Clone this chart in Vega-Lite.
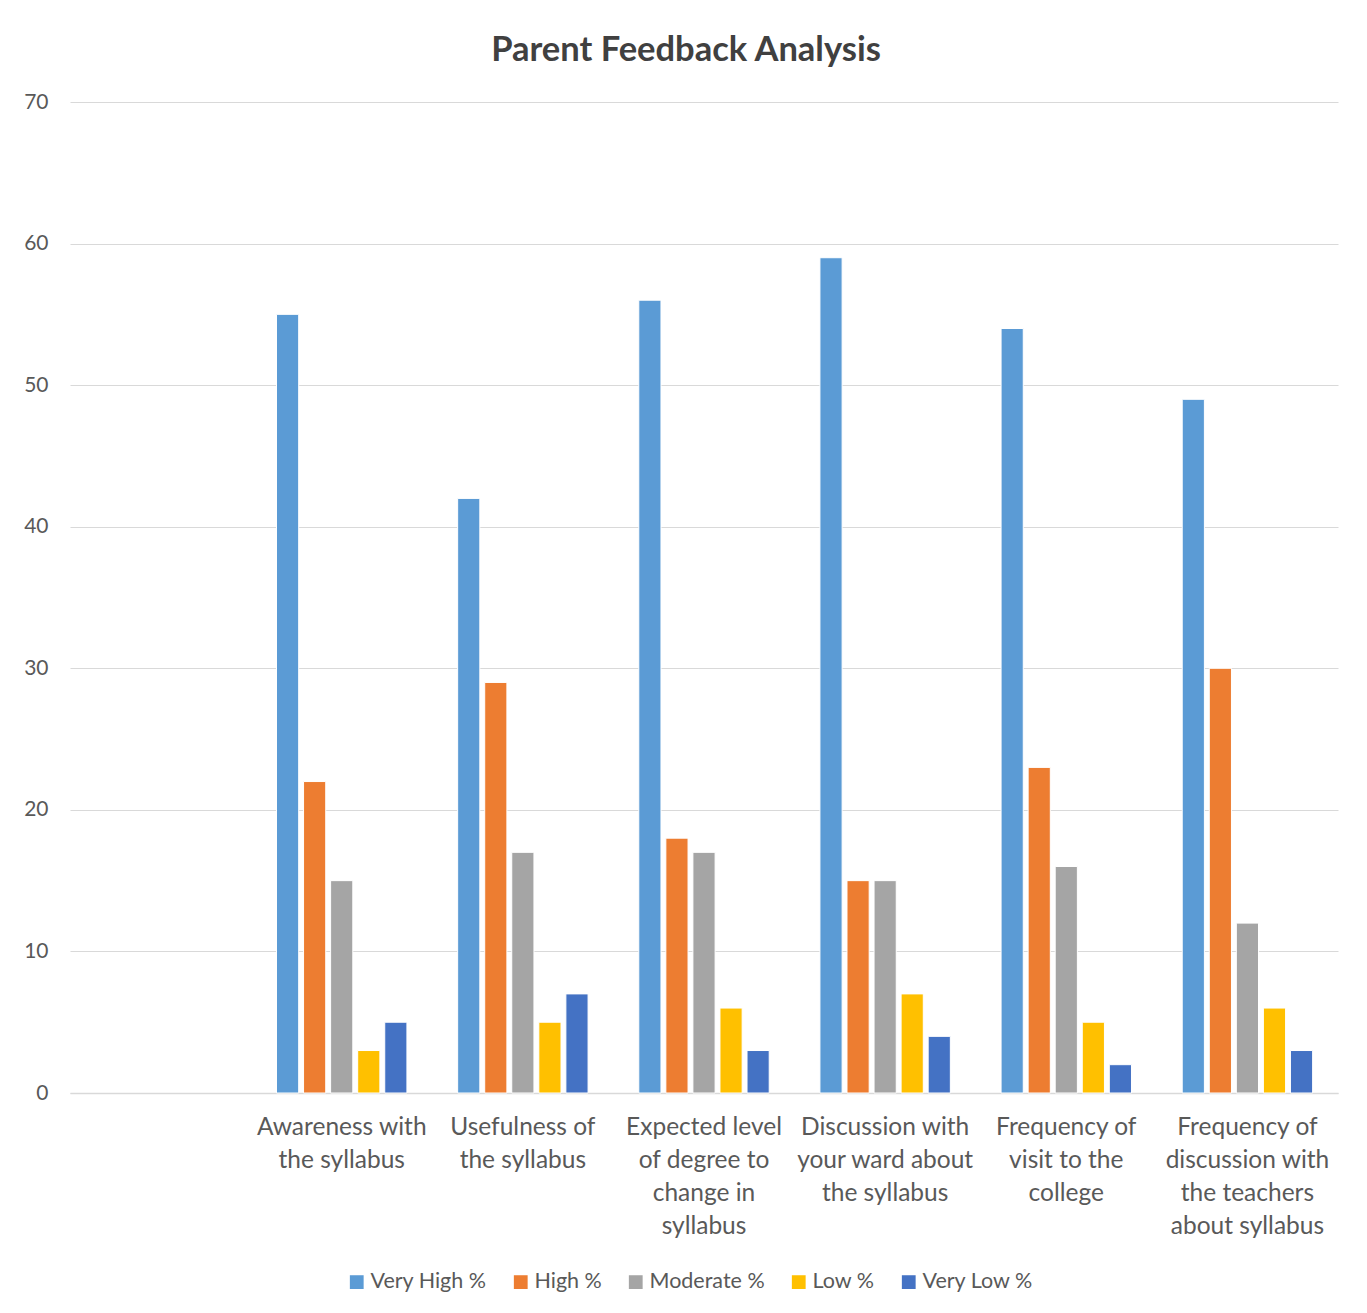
{
  "$schema": "https://vega.github.io/schema/vega-lite/v6.json",
  "width": 1268,
  "height": 991,
  "autosize": {"type": "none"},
  "padding": {"left": 70, "top": 102, "right": 29, "bottom": 220},
  "background": "white",
  "title": {
    "text": "Parent Feedback Analysis",
    "fontSize": 34.5,
    "font": "Lato",
    "fontWeight": "bold",
    "color": "#404040",
    "anchor": "middle",
    "dx": -18,
    "offset": 23
  },
  "data": {
    "values": [
      {"cat": "Awareness with|the syllabus", "level": "Very High %", "value": 55},
      {"cat": "Awareness with|the syllabus", "level": "High %", "value": 22},
      {"cat": "Awareness with|the syllabus", "level": "Moderate %", "value": 15},
      {"cat": "Awareness with|the syllabus", "level": "Low %", "value": 3},
      {"cat": "Awareness with|the syllabus", "level": "Very Low %", "value": 5},
      {"cat": "Usefulness of|the syllabus", "level": "Very High %", "value": 42},
      {"cat": "Usefulness of|the syllabus", "level": "High %", "value": 29},
      {"cat": "Usefulness of|the syllabus", "level": "Moderate %", "value": 17},
      {"cat": "Usefulness of|the syllabus", "level": "Low %", "value": 5},
      {"cat": "Usefulness of|the syllabus", "level": "Very Low %", "value": 7},
      {"cat": "Expected level|of degree to|change in|syllabus", "level": "Very High %", "value": 56},
      {"cat": "Expected level|of degree to|change in|syllabus", "level": "High %", "value": 18},
      {"cat": "Expected level|of degree to|change in|syllabus", "level": "Moderate %", "value": 17},
      {"cat": "Expected level|of degree to|change in|syllabus", "level": "Low %", "value": 6},
      {"cat": "Expected level|of degree to|change in|syllabus", "level": "Very Low %", "value": 3},
      {"cat": "Discussion with|your ward about|the syllabus", "level": "Very High %", "value": 59},
      {"cat": "Discussion with|your ward about|the syllabus", "level": "High %", "value": 15},
      {"cat": "Discussion with|your ward about|the syllabus", "level": "Moderate %", "value": 15},
      {"cat": "Discussion with|your ward about|the syllabus", "level": "Low %", "value": 7},
      {"cat": "Discussion with|your ward about|the syllabus", "level": "Very Low %", "value": 4},
      {"cat": "Frequency of|visit to the|college", "level": "Very High %", "value": 54},
      {"cat": "Frequency of|visit to the|college", "level": "High %", "value": 23},
      {"cat": "Frequency of|visit to the|college", "level": "Moderate %", "value": 16},
      {"cat": "Frequency of|visit to the|college", "level": "Low %", "value": 5},
      {"cat": "Frequency of|visit to the|college", "level": "Very Low %", "value": 2},
      {"cat": "Frequency of|discussion with|the teachers|about syllabus", "level": "Very High %", "value": 49},
      {"cat": "Frequency of|discussion with|the teachers|about syllabus", "level": "High %", "value": 30},
      {"cat": "Frequency of|discussion with|the teachers|about syllabus", "level": "Moderate %", "value": 12},
      {"cat": "Frequency of|discussion with|the teachers|about syllabus", "level": "Low %", "value": 6},
      {"cat": "Frequency of|discussion with|the teachers|about syllabus", "level": "Very Low %", "value": 3}
    ]
  },
  "mark": {"type": "bar", "stroke": "white", "strokeWidth": 1},
  "encoding": {
    "x": {
      "field": "cat",
      "type": "nominal",
      "sort": null,
      "scale": {
        "domain": [" ", "Awareness with|the syllabus", "Usefulness of|the syllabus", "Expected level|of degree to|change in|syllabus", "Discussion with|your ward about|the syllabus", "Frequency of|visit to the|college", "Frequency of|discussion with|the teachers|about syllabus"],
        "paddingInner": 0.28,
        "paddingOuter": 0.14
      },
      "axis": {
        "title": null,
        "labelAngle": 0,
        "labelExpr": "split(datum.label, '|')",
        "labelFont": "Lato",
        "labelFontSize": 24.5,
        "labelLineHeight": 33,
        "labelColor": "#595959",
        "labelPadding": 22,
        "labelBaseline": "top",
        "ticks": false,
        "domainColor": "#D9D9D9",
        "domainWidth": 1.5,
        "grid": false
      }
    },
    "xOffset": {
      "field": "level",
      "type": "nominal",
      "sort": ["Very High %", "High %", "Moderate %", "Low %", "Very Low %"],
      "scale": {"paddingInner": 0.18, "paddingOuter": 0}
    },
    "y": {
      "field": "value",
      "type": "quantitative",
      "scale": {"domain": [0, 70], "nice": false},
      "axis": {
        "title": null,
        "values": [0, 10, 20, 30, 40, 50, 60, 70],
        "labelFont": "Lato",
        "labelFontSize": 21,
        "labelColor": "#595959",
        "labelPadding": 22,
        "ticks": false,
        "domain": false,
        "gridColor": "#D9D9D9",
        "gridWidth": 1.2
      }
    },
    "color": {
      "field": "level",
      "type": "nominal",
      "sort": ["Very High %", "High %", "Moderate %", "Low %", "Very Low %"],
      "scale": {
        "domain": ["Very High %", "High %", "Moderate %", "Low %", "Very Low %"],
        "range": ["#5B9BD5", "#ED7D31", "#A5A5A5", "#FFC000", "#4472C4"]
      },
      "legend": {
        "title": null,
        "orient": "none",
        "direction": "horizontal",
        "legendX": 276,
        "legendY": 1169,
        "symbolType": "square",
        "symbolSize": 190,
        "symbolStrokeWidth": 0,
        "labelFont": "Lato",
        "labelFontSize": 21.5,
        "labelColor": "#595959",
        "columnPadding": 23,
        "labelOffset": 3
      }
    }
  },
  "config": {
    "view": {"stroke": null}
  }
}
